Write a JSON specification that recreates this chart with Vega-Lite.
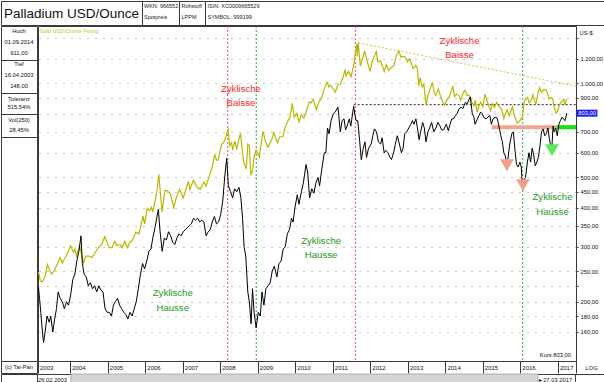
{
  "$schema": "https://vega.github.io/schema/vega-lite/v6.json",
  "background": "white",
  "padding": 0,
  "autosize": {"type": "pad"},
  "config": {
    "view": {"stroke": "#3a3a3a", "strokeWidth": 1},
    "locale": {"number": {"decimal": ",", "thousands": ".", "grouping": [3], "currency": ["", " €"]}},
    "text": {"font": "Liberation Sans, Arial, sans-serif"},
    "axis": {"labelOverlap": false, "labelFont": "Liberation Sans, Arial, sans-serif", "titleFont": "Liberation Sans, Arial, sans-serif"}
  },
  "datasets": {
    "pd": [
      {"d":"2003-02-26","v":222},{"d":"2003-03-08","v":205},{"d":"2003-03-20","v":185},{"d":"2003-04-02","v":165},{"d":"2003-04-16","v":148},{"d":"2003-05-01","v":160},{"d":"2003-05-20","v":180},{"d":"2003-06-10","v":172},{"d":"2003-06-25","v":180},{"d":"2003-07-15","v":160},{"d":"2003-08-01","v":175},{"d":"2003-08-20","v":190},{"d":"2003-09-05","v":215},{"d":"2003-09-25","v":205},{"d":"2003-10-15","v":200},{"d":"2003-11-05","v":190},{"d":"2003-11-25","v":200},{"d":"2003-12-15","v":195},
      {"d":"2004-01-05","v":210},{"d":"2004-01-25","v":235},{"d":"2004-02-15","v":245},{"d":"2004-03-05","v":270},{"d":"2004-03-25","v":290},{"d":"2004-04-15","v":325},{"d":"2004-04-28","v":265},{"d":"2004-05-15","v":245},{"d":"2004-06-05","v":240},{"d":"2004-06-25","v":225},{"d":"2004-07-15","v":230},{"d":"2004-08-05","v":220},{"d":"2004-08-25","v":225},{"d":"2004-09-15","v":215},{"d":"2004-10-05","v":225},{"d":"2004-10-25","v":218},{"d":"2004-11-15","v":215},{"d":"2004-12-05","v":190},{"d":"2004-12-25","v":185},
      {"d":"2005-01-15","v":185},{"d":"2005-02-05","v":180},{"d":"2005-02-25","v":195},{"d":"2005-03-15","v":200},{"d":"2005-04-05","v":205},{"d":"2005-04-25","v":195},{"d":"2005-05-15","v":190},{"d":"2005-06-05","v":185},{"d":"2005-06-25","v":182},{"d":"2005-07-15","v":176},{"d":"2005-08-05","v":185},{"d":"2005-08-25","v":180},{"d":"2005-09-15","v":190},{"d":"2005-10-05","v":200},{"d":"2005-10-25","v":220},{"d":"2005-11-15","v":245},{"d":"2005-12-05","v":265},{"d":"2005-12-25","v":255},
      {"d":"2006-01-15","v":270},{"d":"2006-02-05","v":290},{"d":"2006-02-25","v":295},{"d":"2006-03-15","v":320},{"d":"2006-04-05","v":345},{"d":"2006-04-25","v":375},{"d":"2006-05-08","v":395},{"d":"2006-05-25","v":335},{"d":"2006-06-14","v":290},{"d":"2006-07-05","v":320},{"d":"2006-07-25","v":315},{"d":"2006-08-15","v":335},{"d":"2006-09-05","v":325},{"d":"2006-09-25","v":310},{"d":"2006-10-15","v":305},{"d":"2006-11-05","v":320},{"d":"2006-11-25","v":330},{"d":"2006-12-15","v":325},
      {"d":"2007-01-05","v":335},{"d":"2007-01-25","v":340},{"d":"2007-02-15","v":345},{"d":"2007-03-05","v":350},{"d":"2007-03-25","v":355},{"d":"2007-04-15","v":370},{"d":"2007-05-05","v":365},{"d":"2007-05-25","v":370},{"d":"2007-06-15","v":360},{"d":"2007-07-05","v":365},{"d":"2007-07-25","v":360},{"d":"2007-08-16","v":325},{"d":"2007-09-05","v":335},{"d":"2007-09-25","v":340},{"d":"2007-10-15","v":360},{"d":"2007-11-05","v":375},{"d":"2007-11-25","v":355},{"d":"2007-12-15","v":360},
      {"d":"2008-01-05","v":380},{"d":"2008-01-25","v":420},{"d":"2008-02-15","v":510},{"d":"2008-03-04","v":575},{"d":"2008-03-20","v":470},{"d":"2008-04-10","v":450},{"d":"2008-04-30","v":430},{"d":"2008-05-20","v":460},{"d":"2008-06-10","v":450},{"d":"2008-07-01","v":465},{"d":"2008-07-20","v":430},{"d":"2008-08-05","v":370},{"d":"2008-08-20","v":300},{"d":"2008-09-05","v":280},{"d":"2008-09-25","v":215},{"d":"2008-10-10","v":200},{"d":"2008-10-27","v":170},{"d":"2008-11-10","v":220},{"d":"2008-11-25","v":185},{"d":"2008-12-05","v":175},{"d":"2008-12-15","v":165},
      {"d":"2009-01-05","v":185},{"d":"2009-01-25","v":180},{"d":"2009-02-10","v":215},{"d":"2009-03-01","v":195},{"d":"2009-03-20","v":220},{"d":"2009-04-10","v":225},{"d":"2009-05-01","v":230},{"d":"2009-05-20","v":250},{"d":"2009-06-10","v":260},{"d":"2009-07-05","v":240},{"d":"2009-07-25","v":265},{"d":"2009-08-15","v":270},{"d":"2009-09-05","v":295},{"d":"2009-09-25","v":300},{"d":"2009-10-15","v":330},{"d":"2009-11-05","v":340},{"d":"2009-11-25","v":370},{"d":"2009-12-10","v":360},{"d":"2009-12-28","v":400},
      {"d":"2010-01-20","v":440},{"d":"2010-02-05","v":410},{"d":"2010-03-01","v":450},{"d":"2010-03-20","v":480},{"d":"2010-04-15","v":550},{"d":"2010-05-01","v":520},{"d":"2010-05-20","v":430},{"d":"2010-06-10","v":460},{"d":"2010-07-01","v":445},{"d":"2010-07-20","v":480},{"d":"2010-08-10","v":500},{"d":"2010-08-25","v":470},{"d":"2010-09-15","v":530},{"d":"2010-10-10","v":600},{"d":"2010-10-25","v":600},{"d":"2010-11-10","v":720},{"d":"2010-11-25","v":690},{"d":"2010-12-15","v":760},
      {"d":"2011-01-05","v":800},{"d":"2011-01-25","v":810},{"d":"2011-02-20","v":840},{"d":"2011-03-15","v":700},{"d":"2011-04-01","v":760},{"d":"2011-04-20","v":770},{"d":"2011-05-05","v":710},{"d":"2011-05-20","v":730},{"d":"2011-06-10","v":770},{"d":"2011-06-25","v":730},{"d":"2011-07-23","v":845},{"d":"2011-08-05","v":790},{"d":"2011-08-15","v":760},{"d":"2011-09-01","v":760},{"d":"2011-09-20","v":650},{"d":"2011-10-05","v":570},{"d":"2011-10-25","v":620},{"d":"2011-11-10","v":650},{"d":"2011-11-25","v":580},{"d":"2011-12-15","v":620},
      {"d":"2012-01-10","v":640},{"d":"2012-01-25","v":680},{"d":"2012-02-10","v":715},{"d":"2012-03-01","v":700},{"d":"2012-03-20","v":650},{"d":"2012-04-10","v":640},{"d":"2012-04-25","v":670},{"d":"2012-05-15","v":600},{"d":"2012-06-01","v":610},{"d":"2012-06-20","v":600},{"d":"2012-07-10","v":580},{"d":"2012-07-25","v":570},{"d":"2012-08-15","v":600},{"d":"2012-09-01","v":640},{"d":"2012-09-20","v":680},{"d":"2012-10-10","v":640},{"d":"2012-10-30","v":600},{"d":"2012-11-15","v":620},{"d":"2012-12-01","v":690},{"d":"2012-12-20","v":700},
      {"d":"2013-01-10","v":720},{"d":"2013-01-30","v":740},{"d":"2013-02-15","v":760},{"d":"2013-03-01","v":740},{"d":"2013-03-20","v":770},{"d":"2013-04-10","v":700},{"d":"2013-04-20","v":660},{"d":"2013-05-05","v":700},{"d":"2013-05-25","v":750},{"d":"2013-06-10","v":720},{"d":"2013-06-26","v":650},{"d":"2013-07-15","v":700},{"d":"2013-08-01","v":720},{"d":"2013-08-20","v":750},{"d":"2013-09-10","v":700},{"d":"2013-10-01","v":720},{"d":"2013-10-20","v":750},{"d":"2013-11-10","v":730},{"d":"2013-11-25","v":710},{"d":"2013-12-15","v":710},
      {"d":"2014-01-10","v":740},{"d":"2014-01-30","v":705},{"d":"2014-02-15","v":740},{"d":"2014-03-05","v":770},{"d":"2014-03-20","v":770},{"d":"2014-04-10","v":790},{"d":"2014-04-25","v":800},{"d":"2014-05-15","v":830},{"d":"2014-06-05","v":840},{"d":"2014-06-20","v":830},{"d":"2014-07-15","v":870},{"d":"2014-08-01","v":860},{"d":"2014-08-20","v":890},{"d":"2014-09-01","v":905},{"d":"2014-09-20","v":800},{"d":"2014-10-05","v":780},{"d":"2014-10-17","v":740},{"d":"2014-11-05","v":765},{"d":"2014-11-25","v":790},{"d":"2014-12-10","v":810},{"d":"2014-12-25","v":800},
      {"d":"2015-01-15","v":775},{"d":"2015-02-01","v":770},{"d":"2015-02-20","v":780},{"d":"2015-03-10","v":790},{"d":"2015-03-25","v":740},{"d":"2015-04-10","v":770},{"d":"2015-05-01","v":780},{"d":"2015-05-20","v":775},{"d":"2015-06-10","v":720},{"d":"2015-06-25","v":680},{"d":"2015-07-10","v":650},{"d":"2015-07-24","v":600},{"d":"2015-08-05","v":590},{"d":"2015-08-20","v":560},{"d":"2015-09-01","v":570},{"d":"2015-09-20","v":640},{"d":"2015-10-10","v":690},{"d":"2015-10-25","v":700},{"d":"2015-11-10","v":610},{"d":"2015-11-25","v":550},{"d":"2015-12-10","v":540},{"d":"2015-12-28","v":560},
      {"d":"2016-01-10","v":540},{"d":"2016-01-20","v":470},{"d":"2016-02-01","v":490},{"d":"2016-02-20","v":500},{"d":"2016-03-10","v":560},{"d":"2016-03-25","v":600},{"d":"2016-04-10","v":560},{"d":"2016-04-25","v":620},{"d":"2016-05-10","v":590},{"d":"2016-05-25","v":545},{"d":"2016-06-10","v":560},{"d":"2016-06-25","v":580},{"d":"2016-07-10","v":630},{"d":"2016-07-25","v":700},{"d":"2016-08-10","v":715},{"d":"2016-08-25","v":680},{"d":"2016-09-10","v":690},{"d":"2016-09-25","v":720},{"d":"2016-10-10","v":665},{"d":"2016-10-25","v":620},{"d":"2016-11-05","v":640},{"d":"2016-11-15","v":730},{"d":"2016-11-25","v":700},{"d":"2016-12-10","v":720},{"d":"2016-12-25","v":680},
      {"d":"2017-01-10","v":740},{"d":"2017-01-25","v":760},{"d":"2017-02-10","v":780},{"d":"2017-02-25","v":770},{"d":"2017-03-10","v":760},{"d":"2017-03-20","v":780},{"d":"2017-03-27","v":803}
    ],
    "au": [
      {"d":"2003-02-26","v":249},{"d":"2003-03-15","v":234},{"d":"2003-04-01","v":231},{"d":"2003-05-01","v":241},{"d":"2003-05-25","v":263},{"d":"2003-06-15","v":252},{"d":"2003-07-01","v":245},{"d":"2003-08-01","v":252},{"d":"2003-09-01","v":266},{"d":"2003-09-25","v":277},{"d":"2003-10-15","v":266},{"d":"2003-11-01","v":273},{"d":"2003-12-01","v":284},
      {"d":"2004-01-05","v":302},{"d":"2004-02-01","v":288},{"d":"2004-02-15","v":295},{"d":"2004-03-01","v":280},{"d":"2004-04-01","v":302},{"d":"2004-05-10","v":266},{"d":"2004-06-01","v":280},{"d":"2004-07-01","v":280},{"d":"2004-08-01","v":277},{"d":"2004-09-01","v":288},{"d":"2004-10-01","v":298},{"d":"2004-11-01","v":305},{"d":"2004-12-02","v":323},{"d":"2004-12-20","v":312},
      {"d":"2005-01-15","v":298},{"d":"2005-02-10","v":298},{"d":"2005-03-10","v":312},{"d":"2005-04-01","v":302},{"d":"2005-05-01","v":305},{"d":"2005-05-20","v":298},{"d":"2005-06-15","v":312},{"d":"2005-07-10","v":298},{"d":"2005-08-01","v":309},{"d":"2005-09-01","v":316},{"d":"2005-10-01","v":334},{"d":"2005-11-01","v":330},{"d":"2005-12-10","v":376},{"d":"2005-12-25","v":355},
      {"d":"2006-01-20","v":398},{"d":"2006-02-10","v":391},{"d":"2006-03-01","v":401},{"d":"2006-03-15","v":387},{"d":"2006-04-10","v":426},{"d":"2006-04-25","v":454},{"d":"2006-05-12","v":511},{"d":"2006-06-14","v":387},{"d":"2006-07-10","v":454},{"d":"2006-08-01","v":454},{"d":"2006-09-01","v":444},{"d":"2006-10-05","v":401},{"d":"2006-11-01","v":433},{"d":"2006-12-01","v":458},
      {"d":"2007-01-05","v":430},{"d":"2007-02-25","v":486},{"d":"2007-03-10","v":458},{"d":"2007-04-15","v":490},{"d":"2007-05-20","v":465},{"d":"2007-06-20","v":458},{"d":"2007-07-25","v":483},{"d":"2007-08-15","v":469},{"d":"2007-09-15","v":504},{"d":"2007-10-15","v":540},{"d":"2007-11-08","v":593},{"d":"2007-11-25","v":568},{"d":"2007-12-10","v":568},
      {"d":"2008-01-15","v":639},{"d":"2008-02-01","v":646},{"d":"2008-02-20","v":667},{"d":"2008-03-17","v":717},{"d":"2008-04-01","v":632},{"d":"2008-04-20","v":646},{"d":"2008-05-01","v":611},{"d":"2008-05-20","v":653},{"d":"2008-06-10","v":618},{"d":"2008-07-15","v":692},{"d":"2008-08-15","v":561},{"d":"2008-09-10","v":533},{"d":"2008-09-25","v":639},{"d":"2008-10-10","v":632},{"d":"2008-10-24","v":508},{"d":"2008-11-10","v":525},{"d":"2008-11-25","v":582},{"d":"2008-12-15","v":611},
      {"d":"2009-01-15","v":582},{"d":"2009-02-20","v":703},{"d":"2009-03-15","v":653},{"d":"2009-04-10","v":625},{"d":"2009-05-15","v":660},{"d":"2009-06-05","v":696},{"d":"2009-07-10","v":646},{"d":"2009-08-01","v":675},{"d":"2009-09-01","v":675},{"d":"2009-09-20","v":717},{"d":"2009-10-15","v":753},{"d":"2009-11-10","v":781},{"d":"2009-12-03","v":863},{"d":"2009-12-20","v":781},
      {"d":"2010-01-15","v":802},{"d":"2010-02-05","v":753},{"d":"2010-03-01","v":795},{"d":"2010-03-25","v":774},{"d":"2010-04-20","v":817},{"d":"2010-05-15","v":873},{"d":"2010-06-01","v":866},{"d":"2010-06-25","v":888},{"d":"2010-07-25","v":824},{"d":"2010-08-15","v":866},{"d":"2010-09-15","v":902},{"d":"2010-10-15","v":973},{"d":"2010-11-08","v":1008},{"d":"2010-11-25","v":973},{"d":"2010-12-10","v":987},
      {"d":"2011-01-25","v":937},{"d":"2011-02-20","v":994},{"d":"2011-03-15","v":994},{"d":"2011-04-10","v":1044},{"d":"2011-05-01","v":1108},{"d":"2011-05-10","v":1058},{"d":"2011-06-01","v":1093},{"d":"2011-06-28","v":1051},{"d":"2011-07-25","v":1150},{"d":"2011-08-10","v":1264},{"d":"2011-08-22","v":1335},{"d":"2011-08-26","v":1221},{"d":"2011-09-05","v":1349},{"d":"2011-09-26","v":1136},{"d":"2011-10-15","v":1193},{"d":"2011-11-08","v":1271},{"d":"2011-11-25","v":1200},{"d":"2011-12-29","v":1093},
      {"d":"2012-01-20","v":1179},{"d":"2012-02-28","v":1264},{"d":"2012-03-15","v":1172},{"d":"2012-04-10","v":1179},{"d":"2012-05-16","v":1093},{"d":"2012-06-05","v":1150},{"d":"2012-06-28","v":1101},{"d":"2012-07-20","v":1122},{"d":"2012-08-15","v":1136},{"d":"2012-09-10","v":1228},{"d":"2012-10-05","v":1271},{"d":"2012-10-25","v":1214},{"d":"2012-11-15","v":1221},{"d":"2012-12-10","v":1214},{"d":"2012-12-28","v":1172},
      {"d":"2013-01-20","v":1200},{"d":"2013-02-20","v":1115},{"d":"2013-03-20","v":1143},{"d":"2013-04-05","v":1108},{"d":"2013-04-16","v":980},{"d":"2013-05-01","v":1044},{"d":"2013-05-20","v":973},{"d":"2013-06-05","v":994},{"d":"2013-06-27","v":852},{"d":"2013-07-15","v":916},{"d":"2013-08-28","v":1008},{"d":"2013-09-15","v":930},{"d":"2013-10-01","v":916},{"d":"2013-10-25","v":959},{"d":"2013-11-15","v":909},{"d":"2013-12-20","v":852},
      {"d":"2014-01-15","v":884},{"d":"2014-02-10","v":909},{"d":"2014-03-15","v":980},{"d":"2014-04-01","v":909},{"d":"2014-04-20","v":923},{"d":"2014-05-10","v":916},{"d":"2014-06-01","v":884},{"d":"2014-06-25","v":937},{"d":"2014-07-10","v":951},{"d":"2014-08-01","v":916},{"d":"2014-08-20","v":916},{"d":"2014-09-15","v":873},{"d":"2014-10-05","v":848},{"d":"2014-10-20","v":884},{"d":"2014-11-07","v":809},{"d":"2014-11-25","v":848},{"d":"2014-12-10","v":870},{"d":"2014-12-30","v":841},
      {"d":"2015-01-22","v":923},{"d":"2015-02-10","v":880},{"d":"2015-03-17","v":817},{"d":"2015-04-06","v":863},{"d":"2015-04-25","v":838},{"d":"2015-05-15","v":870},{"d":"2015-06-10","v":838},{"d":"2015-07-01","v":831},{"d":"2015-07-24","v":770},{"d":"2015-08-24","v":824},{"d":"2015-09-15","v":788},{"d":"2015-10-15","v":841},{"d":"2015-11-05","v":788},{"d":"2015-12-03","v":746},{"d":"2015-12-28","v":760},
      {"d":"2016-01-20","v":781},{"d":"2016-02-11","v":880},{"d":"2016-03-10","v":902},{"d":"2016-03-28","v":866},{"d":"2016-04-15","v":880},{"d":"2016-05-02","v":919},{"d":"2016-05-30","v":856},{"d":"2016-06-24","v":937},{"d":"2016-07-06","v":969},{"d":"2016-07-25","v":937},{"d":"2016-08-15","v":955},{"d":"2016-09-06","v":955},{"d":"2016-09-20","v":934},{"d":"2016-10-07","v":891},{"d":"2016-10-25","v":902},{"d":"2016-11-10","v":895},{"d":"2016-11-25","v":838},{"d":"2016-12-15","v":802},{"d":"2016-12-30","v":817},
      {"d":"2017-01-20","v":859},{"d":"2017-02-10","v":877},{"d":"2017-02-27","v":891},{"d":"2017-03-10","v":852},{"d":"2017-03-27","v":891}
    ]
  },
  "spacing": -1,
  "vconcat": [
    {
      "spacing": 0,
      "bounds": "flush",
      "hconcat": [
        {"width": 141, "height": 24, "data": {"values": [{"t": "Palladium USD/Ounce"}]},
         "mark": {"type": "text", "fontSize": 13.5, "color": "#111", "dy": 0.5},
         "encoding": {"text": {"field": "t"}, "x": {"datum": 0.5, "type": "quantitative", "scale": {"domain": [0, 1]}, "axis": null}}},
        {"width": 37, "height": 24, "data": {"values": [{"t": "WKN: 966552\nSpotpreis"}]},
         "mark": {"type": "text", "lineBreak": "\n", "lineHeight": 11, "fontSize": 5.5, "color": "#222", "align": "left", "dx": 2, "dy": -7},
         "encoding": {"text": {"field": "t"}, "x": {"datum": 0, "type": "quantitative", "scale": {"domain": [0, 1]}, "axis": null}}},
        {"width": 26, "height": 24, "data": {"values": [{"t": "Rohstoff\nLPPM"}]},
         "mark": {"type": "text", "lineBreak": "\n", "lineHeight": 11, "fontSize": 5.5, "color": "#222", "align": "left", "dx": 2.5, "dy": -7},
         "encoding": {"text": {"field": "t"}, "x": {"datum": 0, "type": "quantitative", "scale": {"domain": [0, 1]}, "axis": null}}},
        {"width": 400, "height": 24, "data": {"values": [{"t": "ISIN: XC0009665529\nSYMBOL: 999199"}]},
         "mark": {"type": "text", "lineBreak": "\n", "lineHeight": 11, "fontSize": 5.5, "color": "#222", "align": "left", "dx": 2.5, "dy": -7},
         "encoding": {"text": {"field": "t"}, "x": {"datum": 0, "type": "quantitative", "scale": {"domain": [0, 1]}, "axis": null}}}
      ]
    },
    {
      "spacing": -1,
      "hconcat": [
        {
          "spacing": 0,
          "bounds": "flush",
          "vconcat": [
            {"width": 36, "height": 34, "data": {"values": [{"t": "Hoch\n01.09.2014\n911,00"}]},
             "mark": {"type": "text", "lineBreak": "\n", "lineHeight": 10.8, "fontSize": 5.8, "color": "#111", "dy": -11.8},
             "encoding": {"text": {"field": "t"}, "x": {"datum": 0.5, "type": "quantitative", "scale": {"domain": [0, 1]}, "axis": null}}},
            {"width": 36, "height": 33, "data": {"values": [{"t": "Tief\n16.04.2003\n148,00"}]},
             "mark": {"type": "text", "lineBreak": "\n", "lineHeight": 11, "fontSize": 5.8, "color": "#111", "dy": -12.2},
             "encoding": {"text": {"field": "t"}, "x": {"datum": 0.5, "type": "quantitative", "scale": {"domain": [0, 1]}, "axis": null}}},
            {"width": 36, "height": 21, "data": {"values": [{"t": "Toleranz\n515,54%"}]},
             "mark": {"type": "text", "lineBreak": "\n", "lineHeight": 8.5, "fontSize": 5.8, "color": "#111", "dy": -4.8},
             "encoding": {"text": {"field": "t"}, "x": {"datum": 0.5, "type": "quantitative", "scale": {"domain": [0, 1]}, "axis": null}}},
            {"width": 36, "height": 23, "data": {"values": [{"t": "Vol(250)\n28,45%"}]},
             "mark": {"type": "text", "lineBreak": "\n", "lineHeight": 10, "fontSize": 5.8, "color": "#111", "dy": -5.2},
             "encoding": {"text": {"field": "t"}, "x": {"datum": 0.5, "type": "quantitative", "scale": {"domain": [0, 1]}, "axis": null}}},
            {"width": 36, "height": 224, "data": {"values": [{"t": ""}]},
             "mark": {"type": "text"},
             "encoding": {"text": {"field": "t"}, "x": {"datum": 0.5, "type": "quantitative", "scale": {"domain": [0, 1]}, "axis": null}}},
            {"width": 36, "height": 12, "data": {"values": [{"t": "(c) Tai-Pan"}]},
             "mark": {"type": "text", "fontSize": 5.8, "color": "#111"},
             "encoding": {"text": {"field": "t"}, "x": {"datum": 0.5, "type": "quantitative", "scale": {"domain": [0, 1]}, "axis": null}}}
          ]
        },
        {
          "width": 538,
          "height": 335,
          "resolve": {"axis": {"y": "independent"}},
          "layer": [
            {"data": {"values": [{"d": "2008-03-13"}, {"d": "2011-08-08"}]},
             "mark": {"type": "rule", "color": "#ff4a4a", "strokeDash": [2, 2], "strokeWidth": 1},
             "encoding": {"x": {"field": "d", "type": "temporal",
               "scale": {"type": "utc", "domain": [{"year": 2003, "month": 2, "date": 21, "utc": true}, {"year": 2017, "month": 6, "date": 26, "utc": true}]},
               "axis": {"values": [{"year": 2003, "month": 2, "date": 21, "utc": true}, {"year": 2004, "utc": true}, {"year": 2005, "utc": true}, {"year": 2006, "utc": true}, {"year": 2007, "utc": true}, {"year": 2008, "utc": true}, {"year": 2009, "utc": true}, {"year": 2010, "utc": true}, {"year": 2011, "utc": true}, {"year": 2012, "utc": true}, {"year": 2013, "utc": true}, {"year": 2014, "utc": true}, {"year": 2015, "utc": true}, {"year": 2016, "utc": true}, {"year": 2017, "utc": true}, {"year": 2017, "month": 6, "date": 26, "utc": true}],
                 "tickCount": 40,
                 "format": "%Y", "labelExpr": "datum.value > 1490000000000 ? '' : datum.label",
                 "labelAlign": "left", "labelOffset": 1.5, "labelBaseline": "middle", "labelPadding": -6,
                 "tickSize": 12, "tickColor": "#3a3a3a", "tickWidth": 1, "domain": false, "grid": false,
                 "labelFontSize": 6, "labelColor": "#111",
                 "labelFlush": false, "labelOverlap": false, "labelBound": false,
                 "title": "LOG", "titleFontSize": 6, "titleFontWeight": "normal", "titleColor": "#222",
                 "titleX": 553, "titleY": 6, "titleAlign": "center", "titleBaseline": "middle", "titleAngle": 0}}}},
            {"data": {"values": [{"d": "2008-12-16"}, {"d": "2016-01-24"}]},
             "mark": {"type": "rule", "color": "#2ea52e", "strokeDash": [2, 2], "strokeWidth": 1},
             "encoding": {"x": {"field": "d", "type": "temporal", "scale": {"type": "utc", "domain": [{"year": 2003, "month": 2, "date": 21, "utc": true}, {"year": 2017, "month": 6, "date": 26, "utc": true}]}}}},
            {"data": {"values": [{"d": "2011-07-23", "d2": "2017-06-26", "v": 855}]},
             "mark": {"type": "rule", "color": "#222", "strokeDash": [2, 2], "strokeWidth": 1},
             "encoding": {"x": {"field": "d", "type": "temporal", "scale": {"type": "utc", "domain": [{"year": 2003, "month": 2, "date": 21, "utc": true}, {"year": 2017, "month": 6, "date": 26, "utc": true}]}},
               "x2": {"field": "d2"},
               "y": {"field": "v", "type": "quantitative", "scale": {"type": "log", "domain": [129.2, 1527], "nice": false}, "axis": null}}},
            {"data": {"values": [{"d": "2011-09-05", "v": 1349}, {"d": "2017-06-26", "v": 980}]},
             "mark": {"type": "line", "color": "#c4c45a", "strokeDash": [2, 2], "strokeWidth": 1},
             "encoding": {"x": {"field": "d", "type": "temporal", "scale": {"type": "utc", "domain": [{"year": 2003, "month": 2, "date": 21, "utc": true}, {"year": 2017, "month": 6, "date": 26, "utc": true}]}},
               "y": {"field": "v", "type": "quantitative", "scale": {"type": "log", "domain": [129.2, 1527], "nice": false}, "axis": null}}},
            {"data": {"values": [{"d": "2015-03-28", "d2": "2017-06-26", "v": 724}]},
             "mark": {"type": "rule", "color": "#f2a493", "strokeWidth": 4},
             "encoding": {"x": {"field": "d", "type": "temporal", "scale": {"type": "utc", "domain": [{"year": 2003, "month": 2, "date": 21, "utc": true}, {"year": 2017, "month": 6, "date": 26, "utc": true}]}},
               "x2": {"field": "d2"},
               "y": {"field": "v", "type": "quantitative", "scale": {"type": "log", "domain": [129.2, 1527], "nice": false}, "axis": null}}},
            {"data": {"values": [{"d": "2016-12-24", "d2": "2017-06-26", "v": 724}]},
             "mark": {"type": "rule", "color": "#12e612", "strokeWidth": 4},
             "encoding": {"x": {"field": "d", "type": "temporal", "scale": {"type": "utc", "domain": [{"year": 2003, "month": 2, "date": 21, "utc": true}, {"year": 2017, "month": 6, "date": 26, "utc": true}]}},
               "x2": {"field": "d2"},
               "y": {"field": "v", "type": "quantitative", "scale": {"type": "log", "domain": [129.2, 1527], "nice": false}, "axis": null}}},
            {"data": {"name": "au"},
             "mark": {"type": "line", "color": "#b9b900", "strokeWidth": 1.2, "clip": true},
             "encoding": {"x": {"field": "d", "type": "temporal", "scale": {"type": "utc", "domain": [{"year": 2003, "month": 2, "date": 21, "utc": true}, {"year": 2017, "month": 6, "date": 26, "utc": true}]}},
               "y": {"field": "v", "type": "quantitative", "scale": {"type": "log", "domain": [129.2, 1527], "nice": false},
                 "axis": {"orient": "right", "values": [160, 180, 200, 225, 250, 300, 350, 400, 450, 500, 600, 700, 800, 900, 1000, 1200, 1400],
                   "tickCount": 40,
                   "format": ",.2f", "labelExpr": "datum.value == 225 || datum.value == 1400 || datum.value == 800 ? '' : datum.label",
                   "grid": true, "gridDash": [1, 7], "gridColor": "#8a8a8a", "gridWidth": 1, "domain": false,
                   "tickSize": 2, "tickColor": "#3a3a3a", "labelPadding": 2, "labelAlign": "left", "labelBaseline": "middle",
                   "labelFontSize": 5.8, "labelColor": "#111",
                   "labelOverlap": false, "labelFlush": false, "labelBound": false,
                   "title": "US-$", "titleAngle": 0, "titleX": 3, "titleY": 6, "titleAlign": "left", "titleBaseline": "middle",
                   "titleFontSize": 5.8, "titleFontWeight": "normal", "titleColor": "#111"}}}},
            {"data": {"name": "pd"},
             "mark": {"type": "line", "color": "#000", "strokeWidth": 1, "clip": true},
             "encoding": {"x": {"field": "d", "type": "temporal", "scale": {"type": "utc", "domain": [{"year": 2003, "month": 2, "date": 21, "utc": true}, {"year": 2017, "month": 6, "date": 26, "utc": true}]}},
               "y": {"field": "v", "type": "quantitative", "scale": {"type": "log", "domain": [129.2, 1527], "nice": false}, "axis": null}}},
            {"data": {"values": [{"d": "2015-08-24", "v": 547}, {"d": "2016-01-26", "v": 472}]},
             "mark": {"type": "point", "shape": "triangle-down", "filled": true, "size": 190, "color": "#f2a08c", "opacity": 1},
             "encoding": {"x": {"field": "d", "type": "temporal", "scale": {"type": "utc", "domain": [{"year": 2003, "month": 2, "date": 21, "utc": true}, {"year": 2017, "month": 6, "date": 26, "utc": true}]}},
               "y": {"field": "v", "type": "quantitative", "scale": {"type": "log", "domain": [129.2, 1527], "nice": false}, "axis": null}}},
            {"data": {"values": [{"d": "2016-11-04", "v": 611}]},
             "mark": {"type": "point", "shape": "triangle-down", "filled": true, "size": 190, "color": "#5ee85e", "opacity": 1},
             "encoding": {"x": {"field": "d", "type": "temporal", "scale": {"type": "utc", "domain": [{"year": 2003, "month": 2, "date": 21, "utc": true}, {"year": 2017, "month": 6, "date": 26, "utc": true}]}},
               "y": {"field": "v", "type": "quantitative", "scale": {"type": "log", "domain": [129.2, 1527], "nice": false}, "axis": null}}},
            {"data": {"values": [
               {"d": "2008-07-20", "v": 910, "t": "Zyklische\nBaisse", "k": "Baisse"},
               {"d": "2014-05-19", "v": 1300, "t": "Zyklische\nBaisse", "k": "Baisse"},
               {"d": "2006-09-25", "v": 202, "t": "Zyklische\nHausse", "k": "Hausse"},
               {"d": "2010-09-09", "v": 297, "t": "Zyklische\nHausse", "k": "Hausse"},
               {"d": "2016-11-09", "v": 410, "t": "Zyklische\nHausse", "k": "Hausse"}]},
             "mark": {"type": "text", "lineBreak": "\n", "lineHeight": 14.5, "fontSize": 9.6, "align": "center", "baseline": "middle", "dy": -7.25},
             "encoding": {"x": {"field": "d", "type": "temporal", "scale": {"type": "utc", "domain": [{"year": 2003, "month": 2, "date": 21, "utc": true}, {"year": 2017, "month": 6, "date": 26, "utc": true}]}},
               "y": {"field": "v", "type": "quantitative", "scale": {"type": "log", "domain": [129.2, 1527], "nice": false}, "axis": null},
               "text": {"field": "t"},
               "color": {"field": "k", "type": "nominal", "scale": {"domain": ["Baisse", "Hausse"], "range": ["#ff2626", "#1d9a1d"]}, "legend": null}}},
            {"data": {"values": [{"d": "2003-03-07", "v": 1469, "t": "Gold USD/Ounce Fixing"}]},
             "mark": {"type": "text", "fontSize": 5.5, "align": "left", "baseline": "middle", "color": "#c4c42a"},
             "encoding": {"x": {"field": "d", "type": "temporal", "scale": {"type": "utc", "domain": [{"year": 2003, "month": 2, "date": 21, "utc": true}, {"year": 2017, "month": 6, "date": 26, "utc": true}]}},
               "y": {"field": "v", "type": "quantitative", "scale": {"type": "log", "domain": [129.2, 1527], "nice": false}, "axis": null},
               "text": {"field": "t"}}},
            {"data": {"values": [{"d": "2017-05-09", "v": 134.8, "t": "Kurs:803,00"}]},
             "mark": {"type": "text", "fontSize": 5.8, "align": "right", "baseline": "middle", "color": "#111"},
             "encoding": {"x": {"field": "d", "type": "temporal", "scale": {"type": "utc", "domain": [{"year": 2003, "month": 2, "date": 21, "utc": true}, {"year": 2017, "month": 6, "date": 26, "utc": true}]}},
               "y": {"field": "v", "type": "quantitative", "scale": {"type": "log", "domain": [129.2, 1527], "nice": false}, "axis": null},
               "text": {"field": "t"}}},
            {"data": {"values": [{"d": "2017-03-27", "v": 803, "t": "803,00"}]},
             "layer": [
               {"mark": {"type": "point", "shape": "M-1,-0.34L1,-0.34L1,0.34L-1,0.34Z", "filled": true, "size": 420, "color": "#1a1aff", "opacity": 1, "xOffset": 20.5, "clip": false}},
               {"mark": {"type": "text", "fontSize": 5.8, "align": "center", "baseline": "middle", "color": "white", "dx": 20.5, "clip": false}, "encoding": {"text": {"field": "t"}}}
             ],
             "encoding": {"x": {"field": "d", "type": "temporal", "scale": {"type": "utc", "domain": [{"year": 2003, "month": 2, "date": 21, "utc": true}, {"year": 2017, "month": 6, "date": 26, "utc": true}]}},
               "y": {"field": "v", "type": "quantitative", "scale": {"type": "log", "domain": [129.2, 1527], "nice": false}, "axis": null}}},
            {"data": {"values": [{"v": 160}]},
             "mark": {"type": "point", "opacity": 0},
             "encoding": {"y": {"field": "v", "type": "quantitative", "scale": {"type": "log", "domain": [129.2, 1527], "nice": false},
               "axis": {"orient": "right", "offset": 29, "labels": false, "ticks": false, "grid": false, "domain": true, "domainColor": "#3a3a3a", "title": null}}}}
          ]
        }
      ]
    },
    {
      "spacing": 0,
      "bounds": "flush",
      "hconcat": [
        {"width": 36, "height": 11, "data": {"values": [{"t": ""}]}, "mark": {"type": "text"},
         "encoding": {"text": {"field": "t"}, "x": {"datum": 0.5, "type": "quantitative", "scale": {"domain": [0, 1]}, "axis": null}}},
        {"width": 538, "height": 11,
         "layer": [
           {"data": {"values": [{"a": "2004-01-17", "b": "2016-07-01"}]},
            "mark": {"type": "rect", "fill": "#d6d6d6", "stroke": "#a0a0a0", "strokeWidth": 0.8},
            "encoding": {"x": {"field": "a", "type": "temporal", "scale": {"type": "utc", "domain": [{"year": 2003, "month": 2, "date": 21, "utc": true}, {"year": 2017, "month": 6, "date": 26, "utc": true}]}, "axis": null}, "x2": {"field": "b"}}},
           {"data": {"values": [{"d": "2003-02-26", "t": "26.02.2003"}]},
            "mark": {"type": "text", "fontSize": 5.8, "align": "left", "baseline": "middle", "dx": 0.5, "color": "#111"},
            "encoding": {"x": {"field": "d", "type": "temporal", "scale": {"type": "utc", "domain": [{"year": 2003, "month": 2, "date": 21, "utc": true}, {"year": 2017, "month": 6, "date": 26, "utc": true}]}, "axis": null}, "text": {"field": "t"}}},
           {"data": {"values": [{"d": "2017-03-27", "t": "▸ 27.03.2017"}]},
            "mark": {"type": "text", "fontSize": 5.8, "align": "right", "baseline": "middle", "dx": 6.5, "color": "#111"},
            "encoding": {"x": {"field": "d", "type": "temporal", "scale": {"type": "utc", "domain": [{"year": 2003, "month": 2, "date": 21, "utc": true}, {"year": 2017, "month": 6, "date": 26, "utc": true}]}, "axis": null}, "text": {"field": "t"}}}
         ]},
        {"width": 30, "height": 11, "data": {"values": [{"t": ""}]}, "mark": {"type": "text"},
         "encoding": {"text": {"field": "t"}, "x": {"datum": 0.5, "type": "quantitative", "scale": {"domain": [0, 1]}, "axis": null}}}
      ]
    }
  ]
}
